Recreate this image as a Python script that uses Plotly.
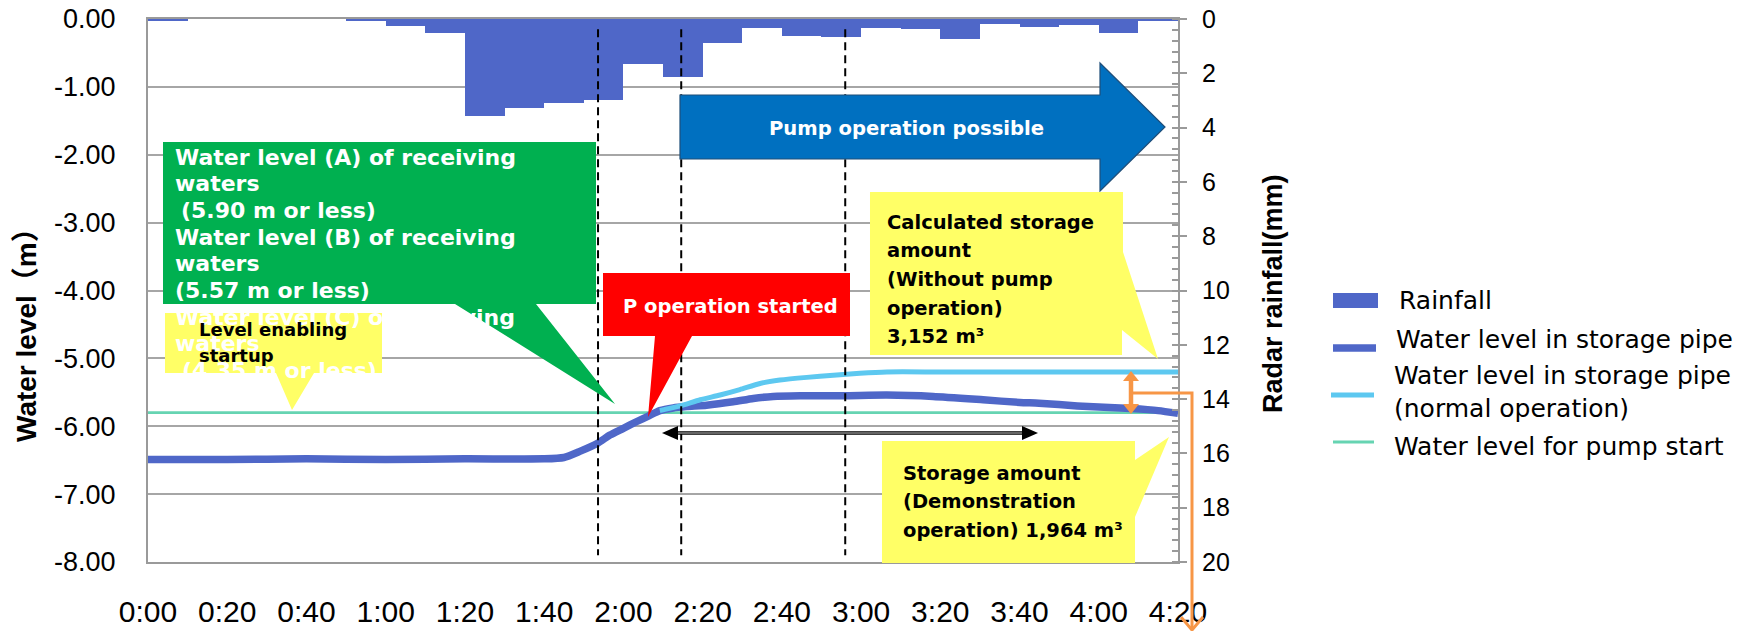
import plotly.graph_objects as go

# ---------------- data ----------------
time_ticks = [0, 20, 40, 60, 80, 100, 120, 140, 160, 180, 200, 220, 240, 260]
time_labels = ["0:00", "0:20", "0:40", "1:00", "1:20", "1:40", "2:00", "2:20",
               "2:40", "3:00", "3:20", "3:40", "4:00", "4:20"]

level_ticks = [0, -1, -2, -3, -4, -5, -6, -7, -8]
level_labels = ["0.00", "-1.00", "-2.00", "-3.00", "-4.00", "-5.00", "-6.00", "-7.00", "-8.00"]

rain_ticks = [0, 2, 4, 6, 8, 10, 12, 14, 16, 18, 20]

# 10-minute rainfall bins (start minute) and radar rainfall (mm)
rain_bin_start = [0, 10, 20, 30, 40, 50, 60, 70, 80, 90, 100, 110, 120, 130, 140,
                  150, 160, 170, 180, 190, 200, 210, 220, 230, 240, 250]
rain_mm = [0.04, 0, 0, 0, 0, 0.05, 0.26, 0.52, 3.58, 3.29, 3.08, 2.98, 1.66, 2.15, 0.90,
           0.34, 0.63, 0.66, 0.32, 0.38, 0.75, 0.18, 0.31, 0.23, 0.50, 0.05]

# water level in storage pipe (minutes, m)
pipe_t = [0, 20, 40, 60, 80, 100, 105, 109, 113.5, 116.6, 120, 123.4, 126.3, 129.2,
          132.6, 136, 141, 147.7, 152.8, 157.8, 164.6, 175.5, 186.5, 198.2, 210.8,
          220.1, 224.9, 234.6, 248.1, 255, 260]
pipe_lvl = [-6.49, -6.49, -6.48, -6.49, -6.48, -6.48, -6.46, -6.37, -6.25, -6.13, -6.03,
            -5.93, -5.85, -5.77, -5.73, -5.71, -5.69, -5.64, -5.59, -5.56, -5.55, -5.55,
            -5.54, -5.56, -5.61, -5.65, -5.66, -5.70, -5.74, -5.77, -5.81]

# water level in storage pipe, normal operation
normal_t = [129.2, 134.3, 139.4, 144.4, 149.4, 154.5, 159.5, 166.3, 173, 179.7, 186.5,
            200, 230, 260]
normal_lvl = [-5.77, -5.70, -5.61, -5.54, -5.46, -5.37, -5.32, -5.28, -5.25, -5.22,
              -5.20, -5.20, -5.20, -5.20]

pump_start_t = [0, 260]
pump_start_lvl = [-5.80, -5.80]

event_t = [113.6, 134.6, 176.0]   # dashed markers

series_names = ["Rainfall", "Water level in storage pipe",
                "Water level in storage pipe<br>(normal operation)",
                "Water level for pump start"]
series_colors = ["#4F67C8", "#4F67C8", "#5DC8F0", "#66D4B2"]

# ---------------- layout helpers ----------------
FIG_W, FIG_H = 1754, 631
PL, PR, PT, PB = 148, 1178, 19, 562


def fx(x):
    return (x - PL) / (PR - PL)


def fy(y):
    return (PB - y) / (PB - PT)


def poly(points):
    return "M " + " L ".join(f"{fx(x):.5f},{fy(y):.5f}" for x, y in points) + " Z"


fig = go.Figure()

fig.add_trace(go.Bar(
    x=[s + 5 for s in rain_bin_start], y=rain_mm, width=10, yaxis="y2",
    name=series_names[0], marker=dict(color=series_colors[0], line=dict(width=0)),
    showlegend=False))
fig.add_trace(go.Scatter(
    x=pump_start_t, y=pump_start_lvl, mode="lines", name=series_names[3],
    line=dict(color=series_colors[3], width=2.7), showlegend=False))
fig.add_trace(go.Scatter(
    x=pipe_t, y=pipe_lvl, mode="lines", name=series_names[1],
    line=dict(color=series_colors[1], width=7.5, shape="spline", smoothing=0.6),
    showlegend=False))
fig.add_trace(go.Scatter(
    x=normal_t, y=normal_lvl, mode="lines", name=series_names[2],
    line=dict(color=series_colors[2], width=5, shape="spline", smoothing=0.6),
    showlegend=False))

shapes = []
# dashed event lines
for t in event_t:
    shapes.append(dict(type="line", xref="x", yref="y", x0=t, x1=t, y0=-0.15, y1=-7.9,
                       line=dict(color="black", width=2, dash="8px,5px"), layer="above"))

# green callout
shapes.append(dict(type="path", xref="paper", yref="paper", layer="above",
                   path=poly([(163, 142), (596, 142), (596, 304), (536, 304), (615, 404),
                              (455, 304), (163, 304)]),
                   fillcolor="#00B050", line=dict(width=0)))
# yellow "Level enabling startup"
shapes.append(dict(type="path", xref="paper", yref="paper", layer="above",
                   path=poly([(165, 313), (382, 313), (382, 373), (314, 373), (292, 410),
                              (276, 373), (165, 373)]),
                   fillcolor="#FFFF66", line=dict(width=0)))
# red callout
shapes.append(dict(type="path", xref="paper", yref="paper", layer="above",
                   path=poly([(603, 273), (850, 273), (850, 336), (692, 336), (648, 417),
                              (655, 336), (603, 336)]),
                   fillcolor="#FF0000", line=dict(width=0)))
# blue block arrow
shapes.append(dict(type="path", xref="paper", yref="paper", layer="above",
                   path=poly([(680, 95), (1100, 95), (1100, 63), (1165, 127), (1100, 191),
                              (1100, 159), (680, 159)]),
                   fillcolor="#0070C0", line=dict(color="#1F4E79", width=1.2)))
# yellow calculated storage
shapes.append(dict(type="path", xref="paper", yref="paper", layer="above",
                   path=poly([(870, 192), (1123, 192), (1123, 252), (1158, 359), (1122, 330),
                              (1122, 355), (870, 355)]),
                   fillcolor="#FFFF66", line=dict(width=0)))
# yellow storage amount
shapes.append(dict(type="path", xref="paper", yref="paper", layer="above",
                   path=poly([(882, 441), (1135, 441), (1135, 460), (1169, 437), (1135, 517),
                              (1135, 563), (882, 563)]),
                   fillcolor="#FFFF66", line=dict(width=0)))
# black double arrow
shapes.append(dict(type="line", xref="paper", yref="paper", layer="above",
                   x0=fx(676), x1=fx(1024), y0=fy(433), y1=fy(433),
                   line=dict(color="black", width=3.5)))
shapes.append(dict(type="line", xref="paper", yref="paper", layer="above",
                   x0=fx(676), x1=fx(1024), y0=fy(433), y1=fy(433),
                   line=dict(color="white", width=0.8)))
shapes.append(dict(type="path", xref="paper", yref="paper", layer="above",
                   path=poly([(662, 433), (678, 426), (678, 440)]),
                   fillcolor="black", line=dict(width=0)))
shapes.append(dict(type="path", xref="paper", yref="paper", layer="above",
                   path=poly([(1038, 433), (1022, 426), (1022, 440)]),
                   fillcolor="black", line=dict(width=0)))
# orange double arrow + connector
ORANGE = "#F79646"
shapes.append(dict(type="line", xref="paper", yref="paper", layer="above",
                   x0=fx(1131), x1=fx(1131), y0=fy(380), y1=fy(405),
                   line=dict(color=ORANGE, width=4.5)))
shapes.append(dict(type="path", xref="paper", yref="paper", layer="above",
                   path=poly([(1131, 371), (1139, 381), (1123, 381)]),
                   fillcolor=ORANGE, line=dict(width=0)))
shapes.append(dict(type="path", xref="paper", yref="paper", layer="above",
                   path=poly([(1131, 414), (1139, 404), (1123, 404)]),
                   fillcolor=ORANGE, line=dict(width=0)))
shapes.append(dict(type="path", xref="paper", yref="paper", layer="above",
                   path=f"M {fx(1133):.5f},{fy(393):.5f} L {fx(1192):.5f},{fy(393):.5f} "
                        f"L {fx(1192):.5f},{fy(630):.5f}",
                   line=dict(color=ORANGE, width=3)))
shapes.append(dict(type="path", xref="paper", yref="paper", layer="above",
                   path=f"M {fx(1181):.5f},{fy(617):.5f} L {fx(1192):.5f},{fy(630):.5f} "
                        f"L {fx(1203):.5f},{fy(617):.5f}",
                   line=dict(color=ORANGE, width=3)))

# manual legend swatches
shapes.append(dict(type="rect", xref="paper", yref="paper", x0=fx(1333), x1=fx(1378),
                   y0=fy(308), y1=fy(293), fillcolor=series_colors[0], line=dict(width=0)))
shapes.append(dict(type="line", xref="paper", yref="paper", x0=fx(1333), x1=fx(1376),
                   y0=fy(348), y1=fy(348), line=dict(color=series_colors[1], width=7.5)))
shapes.append(dict(type="line", xref="paper", yref="paper", x0=fx(1331), x1=fx(1374),
                   y0=fy(395), y1=fy(395), line=dict(color=series_colors[2], width=5)))
shapes.append(dict(type="line", xref="paper", yref="paper", x0=fx(1333), x1=fx(1374),
                   y0=fy(442), y1=fy(442), line=dict(color=series_colors[3], width=3)))

annotations = []


def add_text(text, x, y, size, color="black", family="DejaVu Sans", weight="normal",
             xanchor="left", yanchor="middle", angle=0, align="left"):
    annotations.append(dict(text=text, x=fx(x), y=fy(y), xref="paper", yref="paper",
                            showarrow=False, xanchor=xanchor, yanchor=yanchor,
                            textangle=angle, align=align, borderpad=0,
                            font=dict(size=size, color=color, family=family, weight=weight)))


def add_lines(lines, x, y0, step, size, **kw):
    for k, line in enumerate(lines):
        add_text(line, x, y0 + step * k, size, **kw)


green_lines = ["Water level (A) of receiving", "waters", "(5.90 m or less)",
               "Water level (B) of receiving", "waters", "(5.57 m or less)",
               "Water level (C) of receiving", "waters", "(4.35 m or less)"]
green_indent = [0, 0, 6, 0, 0, 0, 0, 0, 7]
for k, line in enumerate(green_lines):
    add_text(line, 174 + green_indent[k], 157 + 26.7 * k, 22, color="white", weight="bold")

add_lines(["Level enabling", "startup"], 198, 329, 26, 18, weight="bold")
add_text("P operation started", 730, 306, 19.5, color="white", weight="bold",
         xanchor="center")
add_text("Pump operation possible", 906, 128, 19.6, color="white", weight="bold",
         xanchor="center")
add_lines(["Calculated storage", "amount", "(Without pump", "operation)", "3,152 m³"],
          886, 222, 28.7, 19.5, weight="bold")
add_lines(["Storage amount", "(Demonstration", "operation) 1,964 m³"],
          902, 473, 28.5, 19.5, weight="bold")

# axis titles
add_text("Water level（m）", 26, 328, 28, family="Liberation Sans, Noto Sans CJK JP",
         weight="bold", xanchor="center", angle=-90)
add_text("Radar rainfall(mm)", 1273, 294, 27, family="Liberation Sans, Arial",
         weight="bold", xanchor="center", angle=-90)

# legend texts
add_text(series_names[0], 1398, 300, 25)
add_text(series_names[1], 1395, 340, 25)
add_text(series_names[2], 1393, 392, 25)
add_text(series_names[3], 1393, 446, 25)

AXC = "#9A9A9A"
fig.update_layout(
    width=FIG_W, height=FIG_H, autosize=False,
    margin=dict(l=PL, r=FIG_W - PR, t=PT, b=FIG_H - PB, pad=0, autoexpand=False),
    paper_bgcolor="white", plot_bgcolor="white",
    font=dict(family="Liberation Sans, Arial", color="black"),
    showlegend=False, bargap=0,
    xaxis=dict(range=[0, 260], tickvals=time_ticks, ticktext=time_labels, automargin=False,
               showgrid=False, zeroline=False, showline=True, linecolor=AXC, linewidth=2,
               mirror=True, ticks="", tickfont=dict(size=30), ticklabelstandoff=22),
    yaxis=dict(range=[-8, 0], tickvals=level_ticks, ticktext=level_labels, automargin=False,
               showgrid=True, gridcolor="#A6A6A6", gridwidth=1.5, zeroline=False,
               showline=True, linecolor=AXC, linewidth=2, ticks="",
               tickfont=dict(size=27), ticklabelstandoff=25),
    yaxis2=dict(range=[20, 0], overlaying="y", side="right", tickvals=rain_ticks,
                automargin=False,
                showgrid=False, zeroline=False, showline=True, linecolor=AXC, linewidth=2,
                ticks="outside", ticklen=7, tickcolor=AXC, tickwidth=1.5,
                minor=dict(ticks="inside", dtick=0.4, ticklen=6, tickcolor=AXC, tickwidth=1.5),
                tickfont=dict(size=25), ticklabelstandoff=10),
    shapes=shapes, annotations=annotations,
)

fig.write_html(
    "out.html",
    config={"displayModeBar": False},
    post_script="document.body.style.margin='0';document.body.style.overflow='hidden';",
)
